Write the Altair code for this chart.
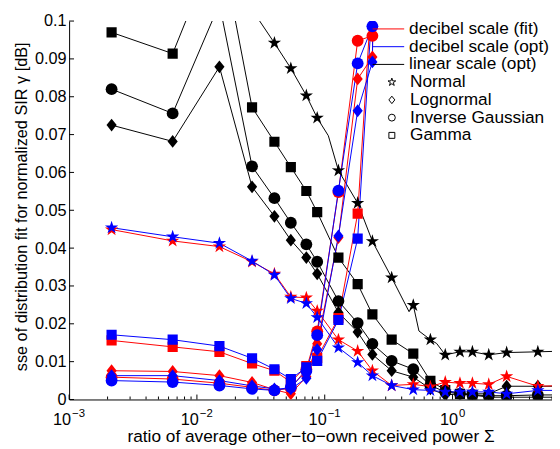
import math
import altair as alt
import pandas as pd

# ---------------- data ----------------
SIGMA = [0.00215, 0.00646, 0.0150, 0.0270, 0.0404, 0.0543, 0.0718, 0.0873,
         0.128, 0.181, 0.236, 0.334, 0.493, 0.671, 0.877, 1.143, 1.43, 1.92,
         2.65, 4.65]
X_MIN, X_MAX = 0.001, 6.0

METHODS = ["decibel scale (fit)", "decibel scale (opt)", "linear scale (opt)"]
DISTS = ["Normal", "Lognormal", "Inverse Gaussian", "Gamma"]
COLORS = ["#ff0000", "#0000ff", "#000000"]

# decibel scale (fit) - red
fit_normal = [0.0449, 0.0419, 0.0404, 0.0364, 0.0332, 0.0271, 0.0269, 0.0234,
              0.0158, 0.0128, 0.0076, 0.0037, 0.0040, 0.0034, 0.0046, 0.0043,
              0.0043, 0.0040, 0.0061, 0.0035]
fit_lognormal = [0.0076, 0.0074, 0.0063, 0.0045, 0.0026, 0.0015, 0.0060, 0.0147,
                 0.0428, 0.0847, 0.0905, 0.5]
fit_invgauss = [0.0059, 0.0054, 0.0043, 0.0032, 0.0024, 0.0030, 0.0080, 0.0180,
                0.0548, 0.0948, 0.0961, 0.5]
fit_gamma = [0.0156, 0.0139, 0.0126, 0.0095, 0.0076, 0.0046, 0.0088, 0.0110,
             0.0215, 0.0491, 0.110, 0.5]

# decibel scale (opt) - blue
opt_normal = [0.0454, 0.0430, 0.0413, 0.0366, 0.0329, 0.0267, 0.0254, 0.0217,
              0.0137, 0.0098, 0.0063, 0.0037, 0.0026, 0.0024, 0.0020, 0.0020,
              0.0020, 0.0020, 0.0015, 0.0024]
opt_lognormal = [0.0063, 0.0063, 0.0050, 0.0036, 0.0028, 0.0028, 0.0056, 0.0132,
                 0.0432, 0.0763, 0.0892, 0.5]
opt_invgauss = [0.0050, 0.0046, 0.0037, 0.0028, 0.0024, 0.0033, 0.0075, 0.0170,
                0.0552, 0.0888, 0.0986, 0.5]
opt_gamma = [0.0171, 0.0158, 0.0141, 0.0109, 0.0080, 0.0054, 0.0085, 0.0102,
             0.0210, 0.0425, 0.105, 0.5]

# linear scale (opt) - black
lin_normal = [0.25, 0.22, 0.18, 0.103, 0.0942, 0.0875, 0.0803, 0.0744,
              0.0605, 0.0519, 0.0418, 0.0322, 0.0249, 0.0158, 0.0118, 0.0126,
              0.0126, 0.0118, 0.0124, 0.0126]
lin_lognormal = [0.0725, 0.0682, 0.0879, 0.0562, 0.0484, 0.0421, 0.0375, 0.0332,
                 0.0230, 0.0178, 0.0119, 0.0076, 0.0059, 0.0028, 0.0012, 0.0015,
                 0.0015, 0.0015, 0.0035, 0.0035]
lin_invgauss = [0.0820, 0.0756, 0.1045, 0.0616, 0.0532, 0.0467, 0.0410, 0.0364,
                0.0260, 0.0202, 0.0147, 0.0102, 0.0080, 0.0037, 0.0020, 0.0015,
                0.0012, 0.0010, 0.0010, 0.0012]
lin_gamma = [0.0970, 0.0914, 0.122, 0.0772, 0.0681, 0.0614, 0.0551, 0.0495,
             0.0375, 0.0305, 0.0225, 0.0158, 0.0121, 0.0049, 0.0025, 0.0015,
             0.0012, 0.0006, 0.0006, 0.0006]

# extra curve samples without markers (curves are sampled more densely)
lin_normal_extra_x = [0.1067, 0.457, 0.546, 0.751, 6.0]
lin_normal_extra_y = [0.0697, 0.0232, 0.0181, 0.0148, 0.0127]
end_x = [6.0]
fit_normal_end = [0.0036]
opt_normal_end = [0.0024]
lin_lognormal_end = [0.0035]
lin_invgauss_end = [0.0012]
lin_gamma_end = [0.0006]

Y_TICKS = [0, 0.01, 0.02, 0.03, 0.04, 0.05, 0.06, 0.07, 0.08, 0.09, 0.1]
X_MAJOR = [0.001, 0.01, 0.1, 1]
X_EXP = ["\u22123", "\u22122", "\u22121", "0"]
X_MINOR = [m * d for d in [0.001, 0.01, 0.1, 1] for m in range(2, 10) if m * d <= X_MAX]

# ---------------- build table ----------------
series = [
    (METHODS[2], DISTS[0], lin_normal, lin_normal_extra_x, lin_normal_extra_y),
    (METHODS[2], DISTS[1], lin_lognormal, end_x, lin_lognormal_end),
    (METHODS[2], DISTS[2], lin_invgauss, end_x, lin_invgauss_end),
    (METHODS[2], DISTS[3], lin_gamma, end_x, lin_gamma_end),
    (METHODS[0], DISTS[0], fit_normal, end_x, fit_normal_end),
    (METHODS[0], DISTS[1], fit_lognormal, [], []),
    (METHODS[0], DISTS[2], fit_invgauss, [], []),
    (METHODS[0], DISTS[3], fit_gamma, [], []),
    (METHODS[1], DISTS[0], opt_normal, end_x, opt_normal_end),
    (METHODS[1], DISTS[1], opt_lognormal, [], []),
    (METHODS[1], DISTS[2], opt_invgauss, [], []),
    (METHODS[1], DISTS[3], opt_gamma, [], []),
]
rows = []
for si, (m, d, ys, ex, ey) in enumerate(series):
    for x, y in zip(SIGMA, ys):
        rows.append(dict(x=x, y=y, method=m, dist=d, key=f"{si:02d}", mk=True, so=si))
    for x, y in zip(ex, ey):
        rows.append(dict(x=x, y=y, method=m, dist=d, key=f"{si:02d}", mk=False, so=si))
df = pd.DataFrame(rows)


def star_path(R, r):
    pts = []
    for k in range(10):
        rad = R if k % 2 == 0 else r
        a = math.radians(-90 + 36 * k)
        pts.append(f"{rad * math.cos(a):.3f},{rad * math.sin(a):.3f}")
    return "M" + "L".join(pts) + "Z"


STAR = star_path(1.18, 0.45)
DIAMOND = "M0,-1.08L0.86,0L0,1.08L-0.86,0Z"
SQUARE = "M-0.86,-0.86H0.86V0.86H-0.86Z"
SHAPES = [STAR, DIAMOND, "circle", SQUARE]

FONT = "Liberation Sans"
TXT = 17.5

xscale = alt.Scale(type="log", domain=[X_MIN, X_MAX], nice=False)
yscale = alt.Scale(domain=[0, 0.1], nice=False, zero=False)
cscale = alt.Scale(domain=METHODS, range=COLORS)
sscale = alt.Scale(domain=DISTS, range=SHAPES)

xaxis = alt.Axis(
    labels=False, ticks=False, tickSize=0, grid=False, domainColor="black",
    title="ratio of average other\u2212to\u2212own received power \u03a3",
    titleFont=FONT, titleFontSize=TXT, titleFontWeight="normal", titleColor="black",
    titleX=245, titleY=43, titleBaseline="alphabetic", titleAlign="center",
)
yaxis = alt.Axis(
    values=Y_TICKS, format=".2~f", ticks=False, tickSize=0, labelPadding=3,
    grid=False, domainColor="black", labelFont=FONT, labelFontSize=16.5,
    labelColor="black",
    title="sse of distribution fit for normalized SIR \u03b3 [dB]",
    titleFont=FONT, titleFontSize=16.5, titleFontWeight="normal", titleColor="black",
    titleX=-48, titleY=188, titleAngle=270, titleBaseline="middle", titleAlign="center",
)

base = alt.Chart(df)
lines = base.mark_line(strokeWidth=1, clip=True).encode(
    x=alt.X("x:Q", scale=xscale, axis=xaxis),
    y=alt.Y("y:Q", scale=yscale, axis=yaxis),
    color=alt.Color("method:N", scale=cscale, legend=None),
    detail="key:N",
    order="x:Q",
)
points = base.transform_filter("datum.mk").mark_point(
    filled=True, size=144, opacity=1, clip=True
).encode(
    x=alt.X("x:Q", scale=xscale, axis=xaxis),
    y=alt.Y("y:Q", scale=yscale, axis=yaxis),
    color=alt.Color("method:N", scale=cscale, legend=None),
    shape=alt.Shape("dist:N", scale=sscale, legend=None),
    order="so:Q",
)

# inward tick marks (MATLAB style)
ytick_df = pd.DataFrame({"t": Y_TICKS})
yticks = alt.Chart(ytick_df).mark_rule(color="black", strokeWidth=1).encode(
    y=alt.Y("t:Q", scale=yscale, axis=yaxis), x=alt.value(0), x2=alt.value(5)
)
xmaj_df = pd.DataFrame({"t": X_MAJOR, "base": ["10"] * len(X_MAJOR), "e": X_EXP})
xmin_df = pd.DataFrame({"t": X_MINOR})
xmajor = alt.Chart(xmaj_df).mark_rule(color="black", strokeWidth=1).encode(
    x=alt.X("t:Q", scale=xscale, axis=xaxis), y=alt.value(384), y2=alt.value(379)
)
xminor = alt.Chart(xmin_df).mark_rule(color="black", strokeWidth=1).encode(
    x=alt.X("t:Q", scale=xscale, axis=xaxis), y=alt.value(384), y2=alt.value(381)
)

# x tick labels "10" with superscript exponent
xlab_layers = []
for cond, dx_base in [("datum.e != '0'", 2), ("datum.e == '0'", 5.5)]:
    src = alt.Chart(xmaj_df).transform_filter(cond)
    xlab_layers.append(src.mark_text(
        align="right", dx=dx_base, baseline="alphabetic", fontSize=16.5, font=FONT,
        color="black"
    ).encode(x=alt.X("t:Q", scale=xscale, axis=xaxis), y=alt.value(410), text="base:N"))
    xlab_layers.append(src.mark_text(
        align="left", dx=dx_base + 1, baseline="alphabetic", fontSize=11.5, font=FONT,
        color="black"
    ).encode(x=alt.X("t:Q", scale=xscale, axis=xaxis), y=alt.value(402), text="e:N"))

# legend (MATLAB style, no box)
LEG_Y0, LEG_DY = 8, 18
legend_layers = []
for i, (m, c) in enumerate(zip(METHODS, COLORS)):
    ld = alt.Chart(pd.DataFrame({"label": [m]}))
    yy = LEG_Y0 + i * LEG_DY
    legend_layers.append(ld.mark_rule(color=c, strokeWidth=1).encode(
        x=alt.value(308), x2=alt.value(340), y=alt.value(yy)))
    legend_layers.append(ld.mark_text(
        align="left", baseline="middle", fontSize=TXT, font=FONT, color="black"
    ).encode(x=alt.value(345), y=alt.value(yy), text="label:N"))
for j, (d, shp) in enumerate(zip(DISTS, SHAPES)):
    ld = alt.Chart(pd.DataFrame({"label": [d]}))
    yy = LEG_Y0 + (3 + j) * LEG_DY
    legend_layers.append(ld.mark_point(
        shape=shp, size=49, filled=False, color="black", strokeWidth=1, opacity=1
    ).encode(x=alt.value(327.5), y=alt.value(yy)))
    legend_layers.append(ld.mark_text(
        align="left", baseline="middle", fontSize=TXT, font=FONT, color="black"
    ).encode(x=alt.value(346), y=alt.value(yy), text="label:N"))

chart = alt.layer(
    lines, points, yticks, xmajor, xminor, *xlab_layers, *legend_layers
).properties(
    width=490, height=384,
    autosize=alt.AutoSizeParams(type="none"),
    padding={"left": 62, "top": 10, "right": 0, "bottom": 47},
).configure(font=FONT).configure_view(stroke=None)

chart.save("out.html", embed_options={"renderer": "svg", "actions": False})
